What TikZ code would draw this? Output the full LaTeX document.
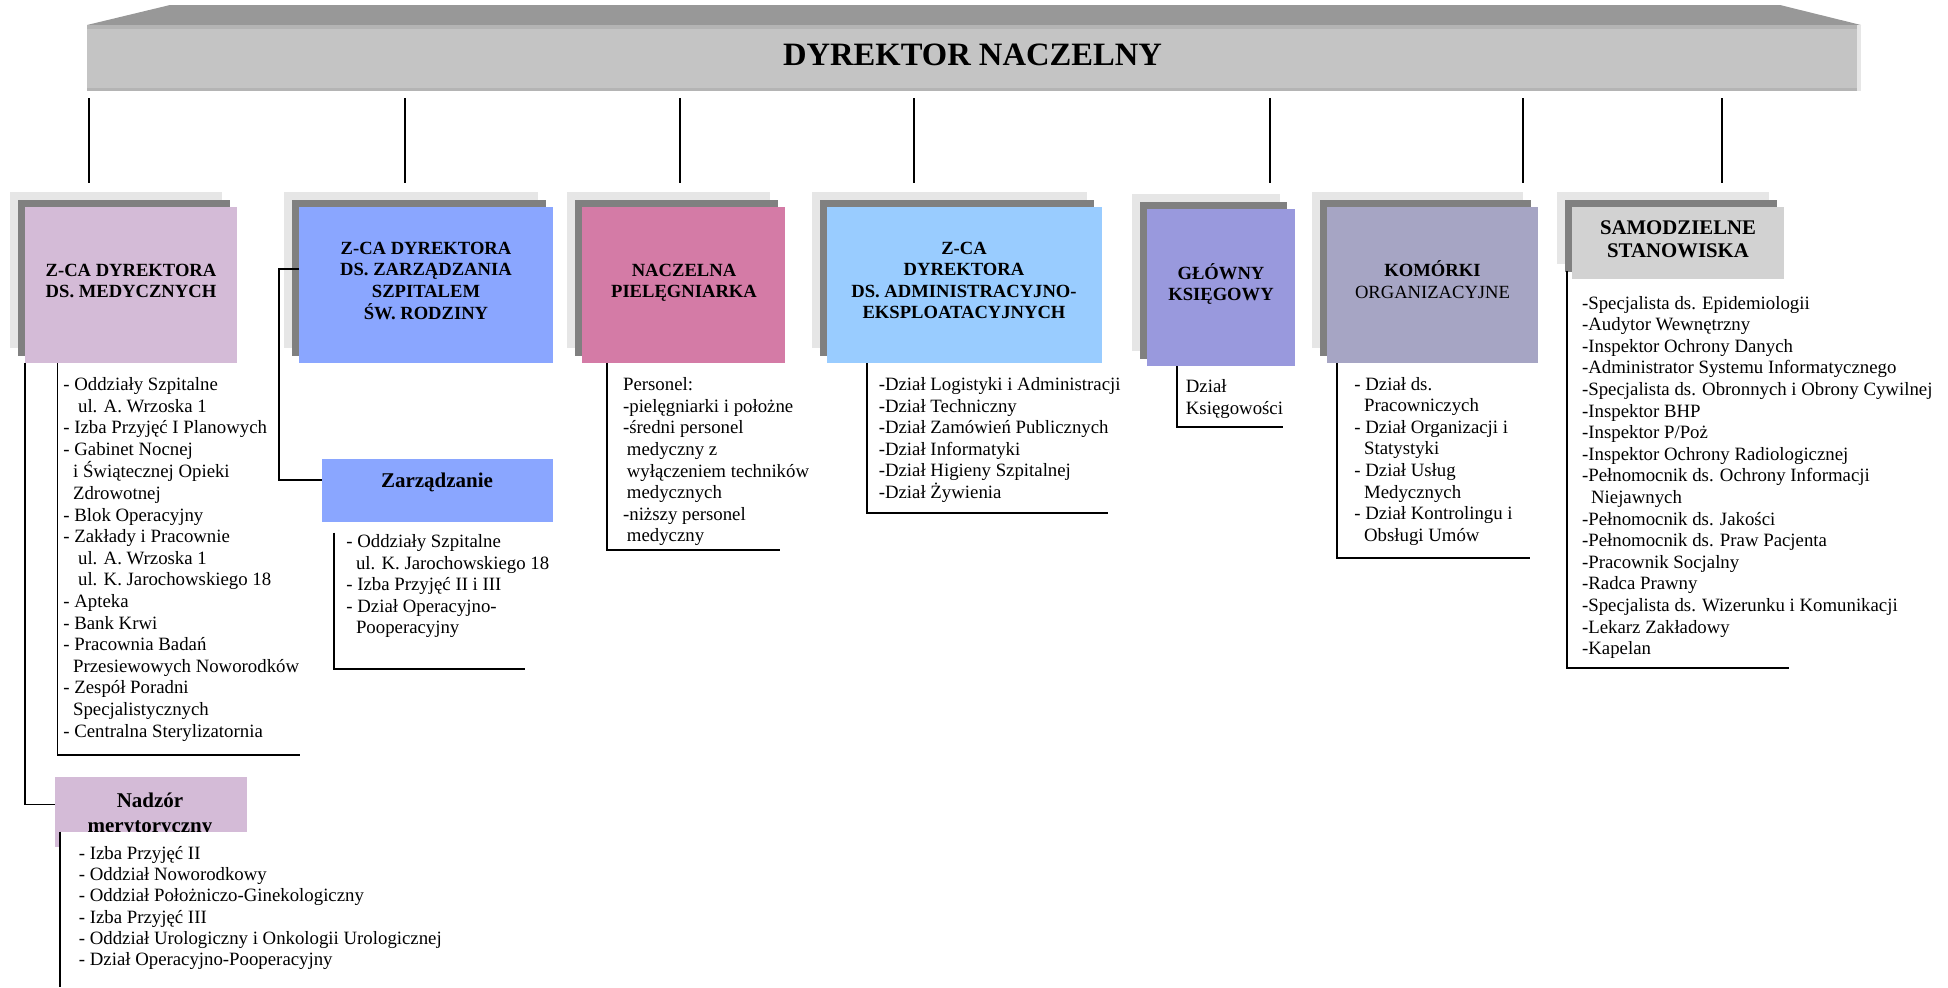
\documentclass[tikz,border=0pt]{standalone}
\usepackage{fontspec}
\setmainfont{Liberation Serif}
\usetikzlibrary{fit,calc}
\definecolor{roofTop}{HTML}{989898}
\definecolor{roofBody}{HTML}{C4C4C4}
\definecolor{roofBand}{HTML}{B4B4B4}
\definecolor{shLight}{HTML}{E6E6E6}
\definecolor{shDark}{HTML}{808080}
\definecolor{cMed}{HTML}{D4BBD7}
\definecolor{cZarz}{HTML}{8AA6FF}
\definecolor{cPiel}{HTML}{D47BA6}
\definecolor{cAdm}{HTML}{99CCFF}
\definecolor{cKsi}{HTML}{9999DD}
\definecolor{cKom}{HTML}{A6A5C4}
\definecolor{cSam}{HTML}{D2D2D2}
\newcommand\cstk[1]{\begin{tabular}[t]{@{}c@{}}#1\end{tabular}}
\newcommand\lstk[1]{\begin{tabular}[t]{@{}l@{}}#1\end{tabular}}
\newcommand\indt[1]{\hspace*{#1pt}}
% \obox{name}{x1}{y1}{x2}{y2}{colour}
\newcommand\obox[6]{%
  \fill[shLight] (#2-15,#3-15) rectangle (#4-15,#5-15);
  \fill[shDark] (#2-7.5,#3-7.5) rectangle (#4-7.5,#5-7.5);
  \node[boxnode, fill=#6, fit={(#2,#3) (#4,#5)}] (#1) {};}
\begin{document}
\begin{tikzpicture}[x=0.5pt, y=-0.5pt,
  boxnode/.style={inner sep=0pt, outer sep=0pt, draw=none},
  ttl/.style={anchor=base, inner sep=0pt, font=\fontsize{9.3}{10.75}\selectfont\bfseries},
  lst/.style={anchor=base west, inner sep=0pt, font=\fontsize{9.4}{10.8}\selectfont},
  brk/.style={line width=0.9pt},
  vln/.style={line width=0.8pt},
  con/.style={line width=0.9pt}]
\useasboundingbox (0,0) rectangle (1948,987);

% roof
\fill[roofTop] (87,25) -- (170,5) -- (1780,5) -- (1861,25) -- cycle;
\node[boxnode, fill=roofBody, fit={(87,25) (1860,91)}] (dn) {};
\fill[roofBand] (87,25) rectangle (1860,28.5);
\fill[roofBand] (87,87.5) rectangle (1860,91);
\fill[shLight] (1857,25) rectangle (1861,91);
\node[anchor=base, inner sep=0pt, font=\fontsize{16.3}{18}\selectfont\bfseries] (dnt) at (972.5,65.7) {DYREKTOR NACZELNY};

% vertical lines under the roof
\foreach \i/\x in {1/89,2/405,3/680,4/914,5/1270,6/1523,7/1722} {
  \coordinate (va\i) at (\x,98);
  \coordinate (vb\i) at (\x,183);
  \draw[vln] (va\i) -- (vb\i);
}

% main boxes
\obox{b1}{25}{207}{237}{363}{cMed}
\obox{b2}{299}{207}{553}{363}{cZarz}
\obox{b3}{582}{207}{785}{363}{cPiel}
\obox{b4}{827}{207}{1101.5}{363}{cAdm}
\obox{b5}{1147}{209}{1294.5}{366}{cKsi}
\obox{b6}{1327}{207}{1538}{363}{cKom}
\obox{b7}{1572}{207}{1784}{279}{cSam}

\node[ttl] (t1) at (131,276) {\cstk{Z-CA DYREKTORA\\DS. MEDYCZNYCH}};
\node[ttl] (t2) at (426,254) {\cstk{Z-CA DYREKTORA\\DS. ZARZĄDZANIA\\SZPITALEM\\ŚW. RODZINY}};
\node[ttl] (t3) at (684,276) {\cstk{NACZELNA\\PIELĘGNIARKA}};
\node[ttl] (t4) at (964,254) {\cstk{Z-CA\\DYREKTORA\\DS. ADMINISTRACYJNO-\\EKSPLOATACYJNYCH}};
\node[ttl] (t5) at (1221,279) {\cstk{GŁÓWNY\\KSIĘGOWY}};
\node[ttl] (t6) at (1432.5,276.7) {\cstk{KOMÓRKI\\\mdseries ORGANIZACYJNE}};
\node[ttl, font=\fontsize{10.4}{11.5}\selectfont\bfseries] (t7) at (1678,234.3) {\cstk{SAMODZIELNE\\STANOWISKA}};

% sub boxes
\node[boxnode, fill=cZarz, fit={(321.5,459) (553,522)}] (zz) {};
\node[ttl, font=\fontsize{10.5}{12}\selectfont\bfseries] (zzt) at (437,487) {Zarządzanie};
\fill[cMed] (55,831.7) rectangle (59.5,847);
\node[boxnode, fill=cMed, fit={(55,777.3) (246.7,831.7)}] (nd) {};
\begin{scope}
  \clip (55,777.3) rectangle (246.7,831.7);
  \node[ttl, font=\fontsize{10.5}{12.8}\selectfont\bfseries] (ndt) at (150,807) {\cstk{Nadzór\\merytoryczny}};
\end{scope}

% connectors
\draw[con] (b1.south west) |- (nd.west);
\coordinate (c2) at (278.6,269);
\coordinate (zzin) at (321.5,480);
\draw[con] (b2.west |- c2) -- (c2) |- (zzin);

% list brackets
\coordinate (k1a) at (57.4,363);  \coordinate (k1b) at (300,755);
\coordinate (k2a) at (334,532.7); \coordinate (k2b) at (525,669);
\coordinate (k3a) at (606.6,363); \coordinate (k3b) at (779.6,550);
\coordinate (k4a) at (867,363);   \coordinate (k4b) at (1108,512.7);
\coordinate (k5a) at (1177,366);  \coordinate (k5b) at (1283,427);
\coordinate (k6a) at (1337,363);  \coordinate (k6b) at (1530,557.7);
\coordinate (k7a) at (1566.7,271); \coordinate (k7b) at (1789,668);
\coordinate (k8a) at (60,831.7);  \coordinate (k8b) at (60,987);
\foreach \k in {1,...,7} { \draw[brk] (k\k a) |- (k\k b); }
\draw[brk] (k8a) -- (k8b);

% lists
\node[lst] (l1) at (63,390.5) {\lstk{%
- Oddziały Szpitalne\\
\indt{7.35}ul. A. Wrzoska 1\\
- Izba Przyjęć I Planowych\\
- Gabinet Nocnej\\
\indt{4.85}i Świątecznej Opieki\\
\indt{4.85}Zdrowotnej\\
- Blok Operacyjny\\
- Zakłady i Pracownie\\
\indt{7.35}ul. A. Wrzoska 1\\
\indt{7.35}ul. K. Jarochowskiego 18\\
- Apteka\\
- Bank Krwi\\
- Pracownia Badań\\
\indt{4.85}Przesiewowych Noworodków\\
- Zespół Poradni\\
\indt{4.85}Specjalistycznych\\
- Centralna Sterylizatornia}};

\node[lst] (l2) at (346,547.5) {\lstk{%
- Oddziały Szpitalne\\
\indt{4.8}ul. K. Jarochowskiego 18\\
- Izba Przyjęć II i III\\
- Dział Operacyjno-\\
\indt{4.8}Pooperacyjny}};

\node[lst] (l3) at (622.7,390.7) {\lstk{%
Personel:\\
-pielęgniarki i położne\\
-średni personel\\
\indt{1.9}medyczny z\\
\indt{1.9}wyłączeniem techników\\
\indt{1.9}medycznych\\
-niższy personel\\
\indt{1.9}medyczny}};

\node[lst] (l4) at (878.4,390.5) {\lstk{%
-Dział Logistyki i Administracji\\
-Dział Techniczny\\
-Dział Zamówień Publicznych\\
-Dział Informatyki\\
-Dział Higieny Szpitalnej\\
-Dział Żywienia}};

\node[lst, font=\fontsize{9.4}{11.3}\selectfont] (l5) at (1185.5,392) {\lstk{%
Dział\\
Księgowości}};

\node[lst] (l6) at (1354,390) {\lstk{%
- Dział ds.\\
\indt{4.85}Pracowniczych\\
- Dział Organizacji i\\
\indt{4.85}Statystyki\\
- Dział Usług\\
\indt{4.85}Medycznych\\
- Dział Kontrolingu i\\
\indt{4.85}Obsługi Umów}};

\node[lst] (l7) at (1581.7,309) {\lstk{%
-Specjalista ds. Epidemiologii\\
-Audytor Wewnętrzny\\
-Inspektor Ochrony Danych\\
-Administrator Systemu Informatycznego\\
-Specjalista ds. Obronnych i Obrony Cywilnej\\
-Inspektor BHP\\
-Inspektor P/Poż\\
-Inspektor Ochrony Radiologicznej\\
-Pełnomocnik ds. Ochrony Informacji\\
\indt{4.5}Niejawnych\\
-Pełnomocnik ds. Jakości\\
-Pełnomocnik ds. Praw Pacjenta\\
-Pracownik Socjalny\\
-Radca Prawny\\
-Specjalista ds. Wizerunku i Komunikacji\\
-Lekarz Zakładowy\\
-Kapelan}};

\node[lst, font=\fontsize{9.4}{10.65}\selectfont] (l8) at (78.5,859.3) {\lstk{%
- Izba Przyjęć II\\
- Oddział Noworodkowy\\
- Oddział Położniczo-Ginekologiczny\\
- Izba Przyjęć III\\
- Oddział Urologiczny i Onkologii Urologicznej\\
- Dział Operacyjno-Pooperacyjny}};
\end{tikzpicture}
\end{document}
